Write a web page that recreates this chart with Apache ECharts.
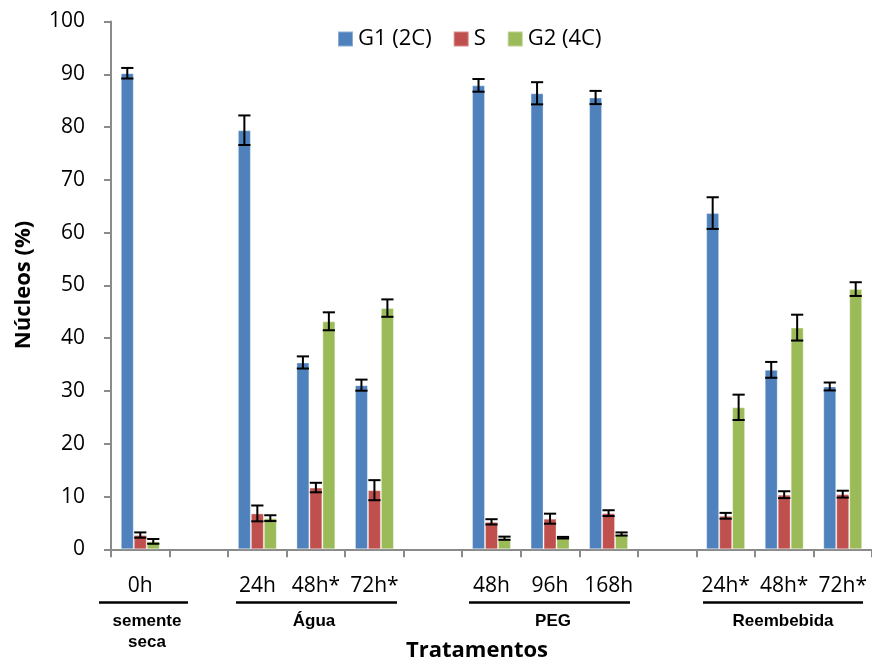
<!DOCTYPE html>
<html>
<head>
<meta charset="utf-8">
<script src="https://cdn.jsdelivr.net/npm/echarts@6/dist/echarts.min.js"></script>
<style>html,body{margin:0;padding:0;background:#fff}#c{width:872px;height:661px}</style>
</head>
<body>
<div id="c"></div>
<script>
const categories = ['0h', '', '24h', '48h*', '72h*', '', '48h', '96h', '168h', '', '24h*', '48h*', '72h*'];
const seriesNames = ['G1 (2C)', 'S', 'G2 (4C)'];
const g1 = [90.2, null, 79.4, 35.4, 31.1, null, 87.9, 86.4, 85.6, null, 63.7, 34.0, 30.85];
const s  = [2.7, null, 6.8, 11.7, 11.2, null, 5.2, 5.8, 6.85, null, 6.35, 10.35, 10.45];
const g2 = [1.5, null, 5.9, 43.2, 45.7, null, 2.1, 2.2, 2.9, null, 26.9, 42.0, 49.3];
const g1Err = [1.0, null, 2.8, 1.15, 1.05, null, 1.2, 2.1, 1.25, null, 3.0, 1.5, 0.75];
const sErr  = [0.5, null, 1.5, 0.9, 1.9, null, 0.5, 0.95, 0.55, null, 0.55, 0.65, 0.65];
const g2Err = [0.45, null, 0.55, 1.7, 1.65, null, 0.3, 0.15, 0.3, null, 2.4, 2.45, 1.3];
const yTicks = [0, 10, 20, 30, 40, 50, 60, 70, 80, 90, 100];
const groups = [
  {label: 'semente\nseca', x1: 99, x2: 188, cx: 147},
  {label: 'Água', x1: 236, x2: 397, cx: 314},
  {label: 'PEG', x1: 469, x2: 630, cx: 553},
  {label: 'Reembebida', x1: 703, x2: 863, cx: 783}
];
const colors = ['#4F81BD', '#C0504D', '#9BBB59'];
const values = [g1, s, g2];
const errs = [g1Err, sErr, g2Err];
const GAP = 0.335;

const chart = echarts.init(document.getElementById('c'), null, {renderer: 'canvas'});

const barSeries = values.map((v, i) => ({
  name: seriesNames[i],
  type: 'bar',
  data: v,
  barGap: '0%',
  barCategoryGap: (GAP * 100) + '%',
  itemStyle: {color: colors[i], borderColor: 'rgba(255,255,255,0.35)', borderWidth: 1},
  emphasis: {disabled: true}
}));

const errSeries = errs.map((e, i) => ({
  type: 'custom',
  name: seriesNames[i] + ' err',
  z: 10,
  silent: true,
  encode: {x: 0, y: [1, 2]},
  data: e.map((d, k) => d == null ? [k, null, null] : [k, values[i][k] - d, values[i][k] + d]),
  renderItem: function (params, api) {
    const lo = api.value(1), hi = api.value(2);
    if (lo == null || isNaN(lo)) return null;
    const band = api.size([1, 0])[0];
    const bw = band * (1 - GAP) / 3;
    const off = (i - 1) * bw;
    const pLo = api.coord([api.value(0), lo]);
    const pHi = api.coord([api.value(0), hi]);
    const x = pLo[0] + off;
    const cap = bw * 0.47;
    const st = {stroke: '#000', lineWidth: 2};
    return {
      type: 'group',
      children: [
        {type: 'line', shape: {x1: x, y1: pLo[1], x2: x, y2: pHi[1]}, style: st},
        {type: 'line', shape: {x1: x - cap, y1: pLo[1], x2: x + cap, y2: pLo[1]}, style: st},
        {type: 'line', shape: {x1: x - cap, y1: pHi[1], x2: x + cap, y2: pHi[1]}, style: st}
      ]
    };
  }
}));

const graphics = [];
groups.forEach(g => {
  graphics.push({type: 'line', shape: {x1: g.x1, y1: 602.5, x2: g.x2, y2: 602.5}, style: {stroke: '#000', lineWidth: 2.5}});
  graphics.push({type: 'text', x: g.cx, y: 611, style: {text: g.label, fill: '#000', font: 'bold 17px "Liberation Sans"', textAlign: 'center', textVerticalAlign: 'top', lineHeight: 21}});
});
graphics.push({type: 'text', x: 477, y: 651, style: {text: 'Tratamentos', fill: '#000', font: 'bold 22px "Open Sans"', textAlign: 'center', textVerticalAlign: 'middle'}});
graphics.push({type: 'text', x: 24, y: 285, rotation: Math.PI / 2, style: {text: 'Núcleos (%)', fill: '#000', font: 'bold 22px "Open Sans"', textAlign: 'center', textVerticalAlign: 'middle'}});

chart.setOption({
  animation: false,
  backgroundColor: '#fff',
  color: colors,
  legend: {
    data: seriesNames,
    top: 23,
    left: 332,
    itemWidth: 15,
    itemHeight: 15,
    itemGap: 21,
    icon: 'rect',
    textStyle: {fontFamily: 'Open Sans', fontSize: 22, color: '#000'},
    selectedMode: false
  },
  grid: {left: 111, right: -2, top: 21.5, bottom: 111.7},
  xAxis: {
    type: 'category',
    data: categories,
    axisLine: {lineStyle: {color: '#8a8a8a', width: 2}},
    axisTick: {show: true, length: 8, lineStyle: {color: '#8a8a8a', width: 2}},
    axisLabel: {interval: 0, margin: 26, fontFamily: 'Open Sans', fontSize: 21, color: '#000'}
  },
  yAxis: {
    type: 'value',
    min: yTicks[0],
    max: yTicks[yTicks.length - 1],
    interval: 10,
    splitLine: {show: false},
    axisLine: {show: true, lineStyle: {color: '#8a8a8a', width: 2}},
    axisTick: {show: true, length: 7, lineStyle: {color: '#8a8a8a', width: 2}},
    axisLabel: {margin: 26, fontFamily: 'Open Sans', fontSize: 21, color: '#000'}
  },
  graphic: graphics,
  series: barSeries.concat(errSeries)
});
</script>
</body>
</html>
